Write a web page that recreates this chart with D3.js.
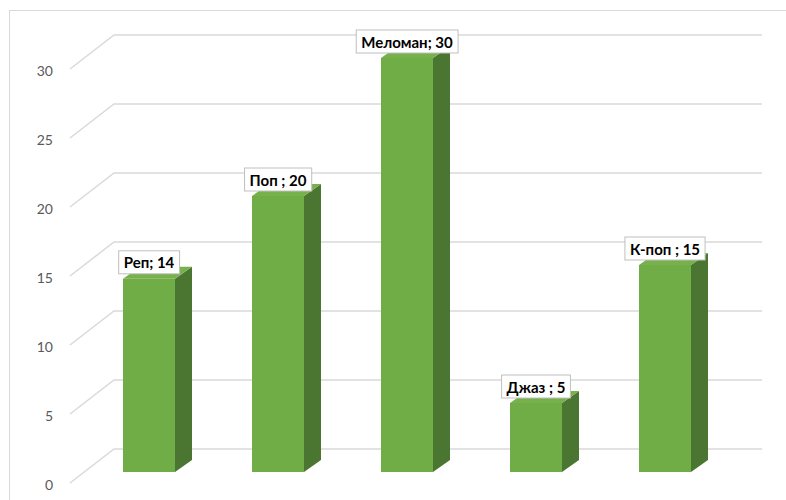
<!DOCTYPE html>
<html><head><meta charset="utf-8">
<script src="https://cdn.jsdelivr.net/npm/d3@7/dist/d3.min.js"></script>
<style>body{margin:0;background:#fff;}svg{display:block;}</style>
</head><body>
<svg id="c" width="786" height="500"></svg>
<script>
const categories = ["Реп", "Поп", "Меломан", "Джаз", "К-поп"];
const values = [14, 20, 30, 5, 15];
const separators = ["; ", " ; ", "; ", " ; ", " ; "];
const yTicks = [0, 5, 10, 15, 20, 25, 30];

const svg = d3.select("#c");
const depthX = 17, depthY = 12;     // bar depth (oblique)
const wallShift = 23;               // back wall vertical offset
const barW = 52;

const x = d3.scalePoint().domain(categories).range([84.5, 729.5]).padding(0.5);
const y = d3.scaleLinear().domain([0, 30]).range([472, 58]);

// frame
svg.append("rect").attr("x", 9.5).attr("y", 10.5).attr("width", 800).attr("height", 520)
  .attr("fill", "#fff").attr("stroke", "#d9d9d9").attr("stroke-width", 1);

// gridlines (back wall + left wall diagonal)
const grid = svg.append("g").attr("fill", "none").attr("stroke", "#d9d9d9").attr("stroke-width", 1.5);
grid.selectAll("path").data(yTicks).join("path")
  .attr("d", v => `M70,${y(v) + 11} L114,${y(v) - wallShift} L762,${y(v) - wallShift}`);

// y axis labels
svg.append("g").selectAll("text").data(yTicks).join("text")
  .attr("x", 53).attr("y", v => y(v) + 12)
  .attr("text-anchor", "end").attr("dominant-baseline", "central")
  .attr("font-family", "Lato, sans-serif").attr("font-size", 14)
  .attr("fill", "#595959").text(d => d);

const data = categories.map((c, i) => ({c, v: values[i], s: separators[i]}));

// bars
const bars = svg.append("g").selectAll("g").data(data).join("g");
bars.append("path").attr("fill", "#4b7631")
  .attr("d", d => {
    const x1 = x(d.c) + barW / 2, yt = y(d.v), yb = y(0);
    return `M${x1},${yt} L${x1 + depthX},${yt - depthY} L${x1 + depthX},${yb - depthY} L${x1},${yb} Z`;
  });
bars.append("path").attr("fill", "#76b14c")
  .attr("d", d => {
    const x0 = x(d.c) - barW / 2, x1 = x(d.c) + barW / 2, yt = y(d.v);
    return `M${x0},${yt} L${x1},${yt} L${x1 + depthX},${yt - depthY} L${x0 + depthX},${yt - depthY} Z`;
  });
bars.append("rect").attr("fill", "#70ad47")
  .attr("x", d => x(d.c) - barW / 2).attr("width", barW)
  .attr("y", d => y(d.v)).attr("height", d => y(0) - y(d.v));

// data labels
const labels = svg.append("g").selectAll("g").data(data).join("g");
labels.each(function(d) {
  const g = d3.select(this);
  const t = g.append("text")
    .attr("x", x(d.c)).attr("y", y(d.v) - 16.5)
    .attr("text-anchor", "middle").attr("dominant-baseline", "central")
    .attr("font-family", "Lato, sans-serif").attr("font-weight", "bold")
    .attr("font-size", 15).attr("fill", "#000")
    .text(d.c + d.s + d.v);
  const bb = t.node().getBBox();
  g.insert("rect", "text")
    .attr("x", bb.x - 5).attr("y", y(d.v) - 28).attr("width", bb.width + 10).attr("height", 23)
    .attr("fill", "#fff").attr("stroke", "#bfbfbf").attr("stroke-width", 1);
});
</script>
</body></html>
